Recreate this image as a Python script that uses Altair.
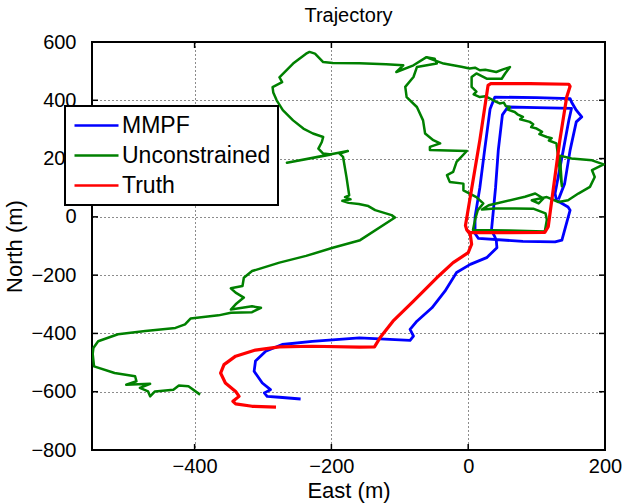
import altair as alt
import pandas as pd

# Truth trajectory (East, North in metres)
truth_east = [-281, -316, -340, -344, -335, -340, -355, -362, -357, -340, -311, -276, -228,
              -159, -137, -129, -110, -80, -46, -22, 0, 5, 3, -2, -4, 17, 29, 33, 90, 147,
              149, 144, 134, 117, 112, 60, 2, -2]
truth_north = [-653, -650, -642, -633, -616, -599, -570, -536, -507, -478, -457, -446, -444,
               -447, -446, -415, -358, -289, -209, -157, -123, -94, -60, -45, -30, 263, 451,
               457, 457, 455, 448, 411, 263, -34, -53, -54, -53, -45]

# MMPF estimate
mmpf_east = [-245, -276, -294, -298, -289, -301, -313, -311, -296, -272, -228, -159, -85, -80,
             -85, -75, -53, -34, -17, 3, 27, 42, 41, 39, 34, 40, 44, 50, 58, 100, 151, 147,
             139, 127, 129, 146, 149, 137, 127, 80, 15, 10, 10, 17, 24, 32, 39, 100, 149, 151,
             158, 166, 158, 149, 141, 132]
mmpf_north = [-625, -619, -616, -604, -593, -570, -530, -495, -461, -438, -427, -415, -424, -409,
              -386, -358, -312, -255, -191, -163, -140, -106, -80, -69, -46, 100, 229, 350, 377,
              375, 372, 330, 229, 80, 57, 34, 23, -80, -86, -84, -74, -57, 0, 100, 229, 370, 411,
              409, 406, 394, 366, 343, 326, 229, 114, 60]

# Unconstrained estimate
unc_east = [-392, -409, -423, -431, -458, -465, -468, -480, -465, -500, -485, -487, -517, -547,
            -549, -548, -541, -512, -472, -428, -414, -406, -365, -347, -316, -303, -316, -347,
            -340, -328, -340, -347, -330, -328, -316, -276, -237, -198, -158, -107, -112, -136,
            -146, -160, -175, -184, -172, -180, -174, -178, -183, -188, -176, -265, -200, -212,
            -219, -214, -212, -227, -241, -256, -271, -280, -285, -286, -272, -276, -256, -237,
            -232, -224, -212, -198, -159, -120, -95, -105, -80, -61, -49, -46, -75, -80, -92,
            -90, -75, -66, -63, -51, -41, -56, -56, -30, -2, -17, -22, -31, -27, -7, -7, 12, 22,
            14, 10, 7, 60, 112, 115, 113, 95, 69, 39, 20, 30, 83, 98, 110, 103, 93, 115, 132,
            146, 161, 178, 185, 181, 198, 181, 151, 134, 137, 134, 129, 118, 122, 115, 104, 108,
            100, 92, 95, 90, 76, 80, 72, 68, 58, 61, 55, 52, 46, 38, 32, 25, 17, 8, 12, 5, 5,
            12, 27, 49, 54, 61, 50, 41, 25, 17, 10, 2, -10, -22, -36, -56, -61]
unc_north = [-610, -581, -579, -593, -599, -616, -599, -587, -573, -576, -564, -547, -536, -513,
             -470, -450, -427, -403, -392, -381, -369, -349, -338, -329, -327, -312, -307, -318,
             -300, -277, -260, -245, -237, -209, -186, -157, -134, -106, -80, -2, 6, 23, 37, 44,
             48, 55, 60, 68, 74, 137, 206, 217, 226, 186, 214, 217, 234, 257, 274, 286, 303, 331,
             366, 400, 427, 445, 462, 479, 526, 560, 566, 560, 531, 528, 527, 524, 520, 497, 520,
             548, 543, 526, 514, 480, 446, 411, 377, 331, 286, 263, 252, 240, 229, 228, 226, 189,
             154, 143, 120, 114, 91, 68, 46, 23, -10, -45, -47, -50, -10, 12, 28, 29, 29, 25, 40,
             69, 80, 63, 46, 57, 68, 51, 57, 80, 103, 137, 160, 180, 194, 200, 210, 105, 160,
             252, 262, 270, 274, 284, 292, 303, 308, 318, 326, 335, 343, 352, 360, 368, 377, 380,
             392, 389, 398, 406, 414, 411, 420, 430, 446, 480, 492, 474, 474, 492, 514, 505, 497,
             505, 503, 512, 509, 515, 520, 526, 543, 548]

series_names = ["MMPF", "Unconstrained", "Truth"]
series_colors = ["#0000ff", "#008000", "#ff0000"]
x_ticks = [-400, -200, 0, 200]
y_ticks = [-800, -600, -400, -200, 0, 200, 400, 600]

W, H = 513, 408
FONT = "Liberation Sans"


def track(name, east, north):
    return pd.DataFrame({"east": east, "north": north, "series": name,
                         "step": list(range(len(east)))})


df = pd.concat([track("MMPF", mmpf_east, mmpf_north),
                track("Unconstrained", unc_east, unc_north),
                track("Truth", truth_east, truth_north)], ignore_index=True)

xs = alt.Scale(domain=[-550, 200], nice=False, zero=False)
ys = alt.Scale(domain=[-800, 600], nice=False, zero=False)

x_enc = alt.X("east:Q", scale=xs, axis=alt.Axis(
    values=x_ticks, title="East (m)", grid=True, gridDash=[1, 3], gridColor="#000000",
    gridOpacity=0.9, domain=False, ticks=False, labelPadding=6, titlePadding=4,
    labelFontSize=20, titleFontSize=22, labelFont=FONT, titleFont=FONT,
    labelColor="#000", titleColor="#000", titleFontWeight="normal", labelFlush=False))
y_enc = alt.Y("north:Q", scale=ys, axis=alt.Axis(
    values=y_ticks, title="North (m)", grid=True, gridDash=[1, 3], gridColor="#000000",
    gridOpacity=0.9, domain=False, ticks=False, labelPadding=16, titlePadding=4,
    labelFontSize=20, titleFontSize=22, labelFont=FONT, titleFont=FONT,
    labelColor="#000", titleColor="#000", titleFontWeight="normal", labelFlush=False))

# legend swatches: a wide horizontal stroke drawn from a compact symbol size
color = alt.Color("series:N", scale=alt.Scale(domain=series_names, range=series_colors),
                  legend=alt.Legend(title=None, orient="none", legendX=-27, legendY=64,
                                    symbolType="M-2,0H2", symbolSize=484, symbolStrokeWidth=2.4,
                                    symbolOffset=12,
                                    labelFontSize=23, labelFont=FONT, labelColor="#000",
                                    labelOffset=13, rowPadding=5, padding=7,
                                    strokeColor="#000", fillColor="#fff"))

widths = {"MMPF": 2.8, "Unconstrained": 2.5, "Truth": 3.2}
layers = []
for name in series_names:
    layers.append(
        alt.Chart(df).transform_filter(alt.datum.series == name)
        .mark_line(clip=True, strokeWidth=widths[name], strokeJoin="round")
        .encode(x=x_enc, y=y_enc, color=color, order="step:Q")
    )

# inward tick marks on all four sides of the box
xt = pd.DataFrame({"v": x_ticks})
yt = pd.DataFrame({"v": y_ticks})
tick_top = alt.Chart(xt).mark_rule(color="#000", strokeWidth=1.5).encode(
    x=alt.X("v:Q", scale=xs), y=alt.value(0), y2=alt.value(6))
tick_bot = alt.Chart(xt).mark_rule(color="#000", strokeWidth=1.5).encode(
    x=alt.X("v:Q", scale=xs), y=alt.value(H), y2=alt.value(H - 6))
tick_left = alt.Chart(yt).mark_rule(color="#000", strokeWidth=1.5).encode(
    y=alt.Y("v:Q", scale=ys), x=alt.value(0), x2=alt.value(6))
tick_right = alt.Chart(yt).mark_rule(color="#000", strokeWidth=1.5).encode(
    y=alt.Y("v:Q", scale=ys), x=alt.value(W), x2=alt.value(W - 6))

chart = alt.layer(tick_top, tick_bot, tick_left, tick_right, *layers).properties(
    width=W, height=H,
    title=alt.Title("Trajectory"),
    autosize="none",
    padding={"left": 92, "top": 42, "right": 22, "bottom": 54},
).configure_view(stroke="#000", strokeWidth=2).configure_legend(
    strokeWidth=2
).configure_title(fontSize=20, font=FONT, fontWeight="normal", color="#000", offset=6)

chart.save("out.html", embed_options={"renderer": "svg", "actions": False})
